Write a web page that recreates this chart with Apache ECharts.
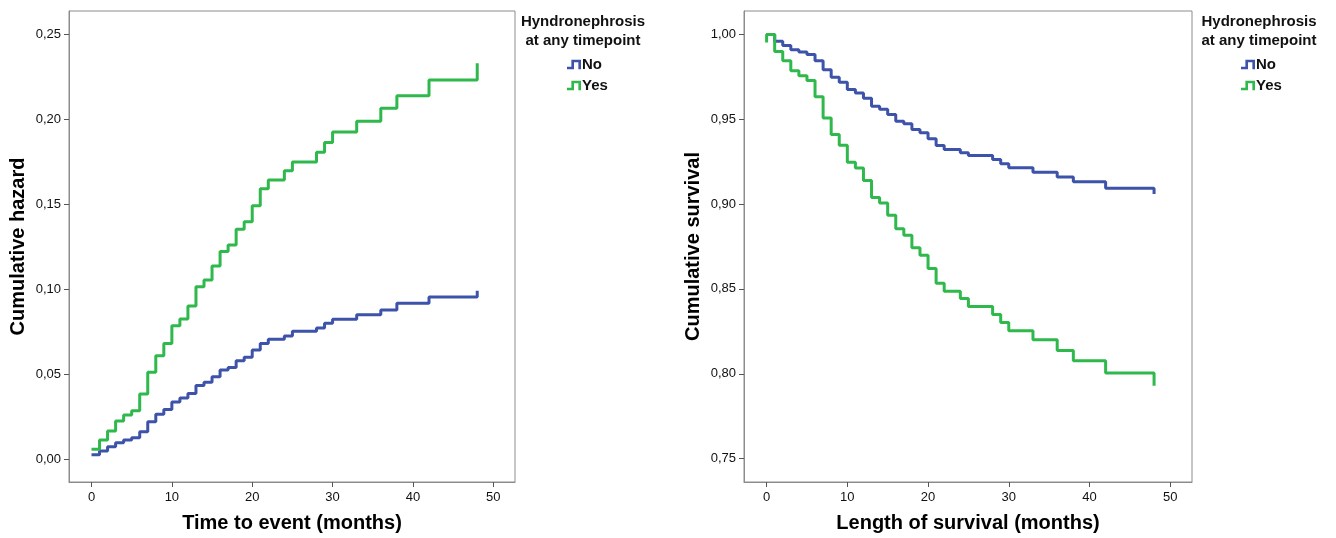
<!DOCTYPE html>
<html>
<head>
<meta charset="utf-8">
<title>Cumulative hazard / survival by hydronephrosis</title>
<script src="https://cdn.jsdelivr.net/npm/echarts@6/dist/echarts.min.js"></script>
<style>
  html, body { margin: 0; padding: 0; background: #fff; }
  #main { width: 1336px; height: 538px; }
</style>
</head>
<body>
<div id="main"></div>
<script type="text/javascript">
// step times (months), shared by all four curves
var months = [0, 1, 2, 3, 4, 5, 6, 7, 8, 9, 10, 11, 12, 13, 14, 15, 16, 17, 18, 19, 20, 21, 22, 24, 25, 28, 29, 30, 33, 36, 38, 42, 48];

// left panel: cumulative hazard
var hazardNo = [0.0025, 0.0047, 0.0073, 0.0096, 0.0112, 0.0125, 0.0161, 0.0220, 0.0263, 0.0292,
                0.0335, 0.0359, 0.0386, 0.0433, 0.0451, 0.0484, 0.0524, 0.0539, 0.0578, 0.0598,
                0.0641, 0.0680, 0.0704, 0.0724, 0.0751, 0.0771, 0.0798, 0.0822, 0.0849, 0.0876,
                0.0916, 0.0953, 0.0990];
var hazardYes = [0.0057, 0.0112, 0.0165, 0.0224, 0.0259, 0.0284, 0.0382, 0.0510, 0.0608, 0.0680,
                 0.0784, 0.0824, 0.0900, 0.1014, 0.1053, 0.1135, 0.1220, 0.1259, 0.1351, 0.1396,
                 0.1490, 0.1590, 0.1641, 0.1696, 0.1747, 0.1804, 0.1861, 0.1924, 0.1986, 0.2063,
                 0.2137, 0.2229, 0.2327];

// right panel: cumulative survival
var survNo = [1.0000, 0.9959, 0.9935, 0.9910, 0.9896, 0.9881, 0.9845, 0.9792, 0.9747, 0.9718,
              0.9675, 0.9655, 0.9624, 0.9577, 0.9559, 0.9528, 0.9488, 0.9473, 0.9439, 0.9420,
              0.9385, 0.9345, 0.9322, 0.9302, 0.9286, 0.9263, 0.9237, 0.9214, 0.9188, 0.9159,
              0.9132, 0.9094, 0.9059];
var survYes = [1.0000, 0.9900, 0.9845, 0.9786, 0.9757, 0.9728, 0.9632, 0.9508, 0.9410, 0.9347,
               0.9247, 0.9212, 0.9139, 0.9039, 0.9006, 0.8934, 0.8855, 0.8816, 0.8743, 0.8698,
               0.8620, 0.8534, 0.8486, 0.8443, 0.8396, 0.8349, 0.8302, 0.8253, 0.8200, 0.8137,
               0.8077, 0.8004, 0.7930];
var survYesStart = 0.9953; // little tick at time 0

var xTicks = [0, 10, 20, 30, 40, 50];
var hazardTicks = [0, 0.05, 0.10, 0.15, 0.20, 0.25];
var survTicks = [0.75, 0.80, 0.85, 0.90, 0.95, 1.00];
var groups = ['No', 'Yes'];

var BLUE = '#3d52a9';
var GREEN = '#2fb84b';
var FONT = 'Liberation Sans';
var stepIcon = 'path://M0,8 L5,8 L5,0 L16,0 L16,11 L13,11 L13,3 L8,3 L8,11 L0,11 Z';

function pairs(vals) {
    return months.map(function (m, i) { return [m, vals[i]]; });
}
function comma(v) { return v.toFixed(2).replace('.', ','); }

function xAxisFor(idx, name) {
    return {
        gridIndex: idx, type: 'value', min: -2.8, max: 52.7,
        name: name, nameLocation: 'middle', nameGap: 31,
        nameTextStyle: { fontFamily: FONT, fontSize: 20, fontWeight: 'bold', color: '#000' },
        axisLine: { show: true, onZero: false, lineStyle: { color: '#8c8c8c', width: 1 } },
        axisTick: { show: true, length: 5, lineStyle: { color: '#555' }, customValues: xTicks },
        axisLabel: { fontFamily: FONT, fontSize: 13, color: '#111', margin: 9, customValues: xTicks },
        splitLine: { show: false }
    };
}
function yAxisFor(idx, name, min, max, ticks) {
    return {
        gridIndex: idx, type: 'value', min: min, max: max,
        name: name, nameLocation: 'middle', nameGap: 41,
        nameTextStyle: { fontFamily: FONT, fontSize: 20, fontWeight: 'bold', color: '#000' },
        axisLine: { show: true, onZero: false, lineStyle: { color: '#8c8c8c', width: 1 } },
        axisTick: { show: true, length: 5, lineStyle: { color: '#555' }, customValues: ticks },
        axisLabel: { fontFamily: FONT, fontSize: 13, color: '#111', margin: 8,
                     customValues: ticks, formatter: comma },
        splitLine: { show: false }
    };
}
function stepSeries(name, color, xi, data) {
    return {
        name: name, type: 'line', step: 'end', xAxisIndex: xi, yAxisIndex: xi,
        showSymbol: false, symbol: 'none', animation: false, silent: true,
        lineStyle: { color: color, width: 3 }, itemStyle: { color: color },
        data: data
    };
}
function legendFor(left) {
    return {
        orient: 'vertical', left: left, top: 52, itemGap: 6,
        itemWidth: 14, itemHeight: 10, selectedMode: false,
        data: groups.map(function (g) { return { name: g, icon: stepIcon }; }),
        textStyle: { fontFamily: FONT, fontSize: 15, fontWeight: 'bold', color: '#111', padding: [0, 0, 0, -4] }
    };
}

var myChart = echarts.init(document.getElementById('main'));
var option = {
    backgroundColor: '#fff',
    grid: [
        { left: 69, top: 11, width: 446, height: 471, show: true, borderColor: '#8c8c8c', borderWidth: 1 },
        { left: 744, top: 11, width: 448, height: 472, show: true, borderColor: '#8c8c8c', borderWidth: 1 }
    ],
    xAxis: [
        xAxisFor(0, 'Time to event (months)'),
        xAxisFor(1, 'Length of survival (months)')
    ],
    yAxis: [
        yAxisFor(0, 'Cumulative hazard', -0.0135, 0.2635, hazardTicks),
        yAxisFor(1, 'Cumulative survival', 0.7362, 1.0138, survTicks)
    ],
    legend: [legendFor(562), legendFor(1236)],
    graphic: [
        { type: 'text', x: 583, y: 12, style: { text: 'Hyndronephrosis\nat any timepoint', textAlign: 'center',
          fontFamily: FONT, fontSize: 15, fontWeight: 'bold', lineHeight: 19, fill: '#111' } },
        { type: 'text', x: 1259, y: 12, style: { text: 'Hydronephrosis\nat any timepoint', textAlign: 'center',
          fontFamily: FONT, fontSize: 15, fontWeight: 'bold', lineHeight: 19, fill: '#111' } }
    ],
    series: [
        stepSeries('No', BLUE, 0, pairs(hazardNo)),
        stepSeries('Yes', GREEN, 0, pairs(hazardYes)),
        stepSeries('No', BLUE, 1, pairs(survNo)),
        stepSeries('Yes', GREEN, 1, [[0, survYesStart]].concat(pairs(survYes)))
    ]
};
myChart.setOption(option);
</script>
</body>
</html>
